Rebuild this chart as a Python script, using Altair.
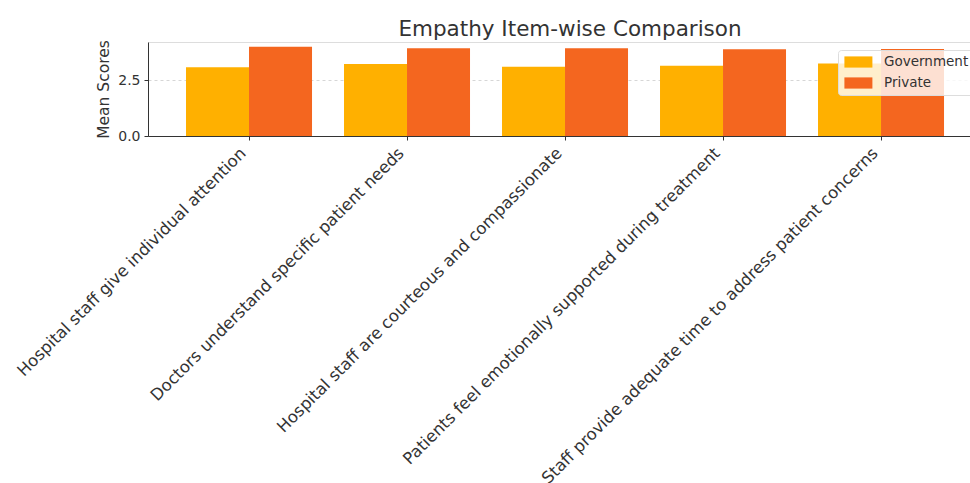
import altair as alt
import pandas as pd

categories = [
    "Hospital staff give individual attention",
    "Doctors understand specific patient needs",
    "Hospital staff are courteous and compassionate",
    "Patients feel emotionally supported during treatment",
    "Staff provide adequate time to address patient concerns",
]
series = ["Government", "Private"]
government = [3.09, 3.23, 3.11, 3.15, 3.26]
private = [4.01, 3.94, 3.94, 3.89, 3.91]
colors = ["#FFB000", "#F4661F"]
y_ticks = [0.0, 2.5]

rows = []
for c, g, p in zip(categories, government, private):
    rows.append({"Item": c, "Sector": "Government", "Score": g})
    rows.append({"Item": c, "Sector": "Private", "Score": p})
df = pd.DataFrame(rows)

FONT = "DejaVu Sans"
rect_path = "M-0.8,-0.8 L3.2,-0.8 L3.2,0.8 L-0.8,0.8 Z"

chart = alt.Chart(df).mark_bar().encode(
    x=alt.X(
        "Item:N",
        sort=categories,
        scale=alt.Scale(paddingInner=0.2025, paddingOuter=0.2025, align=0.594),
        axis=alt.Axis(
            title=None,
            labelAngle=-45,
            labelAlign="right",
            labelBaseline="bottom",
            labelFontSize=16.5,
            labelFont=FONT,
            labelColor="#333333",
            labelLimit=700,
            tickSize=4,
            tickColor="#333333",
            domainColor="#333333",
            labelPadding=16,
            grid=False,
        ),
    ),
    xOffset=alt.XOffset("Sector:N", sort=series),
    y=alt.Y(
        "Score:Q",
        scale=alt.Scale(domain=[0, 4.22], nice=False),
        axis=alt.Axis(
            title="Mean Scores",
            values=y_ticks,
            format=".1f",
            labelFontSize=14,
            labelFont=FONT,
            labelColor="#333333",
            titleFont=FONT,
            titleFontSize=15.5,
            titleFontWeight="normal",
            titleColor="#333333",
            titlePadding=6,
            tickSize=4,
            tickColor="#333333",
            domainColor="#333333",
            labelPadding=4,
            grid=True,
            gridDash=[3, 3],
            gridColor="#cccccc",
            gridWidth=0.8,
        ),
    ),
    color=alt.Color(
        "Sector:N",
        sort=series,
        scale=alt.Scale(domain=series, range=colors),
        legend=alt.Legend(
            title=None,
            orient="none",
            legendX=690,
            legendY=8,
            symbolType=rect_path,
            symbolSize=196,
            symbolStrokeWidth=0,
            symbolOpacity=1,
            labelFontSize=13.5,
            labelFont=FONT,
            labelColor="#333333",
            labelOffset=27,
            rowPadding=7,
            padding=5,
            fillColor="rgba(255,255,255,0.8)",
            strokeColor="#dddddd",
            cornerRadius=3,
        ),
    ),
).properties(
    width=822,
    height=94,
    title=alt.TitleParams(
        "Empathy Item-wise Comparison",
        font=FONT,
        fontSize=21.5,
        fontWeight="normal",
        color="#333333",
        anchor="middle",
        baseline="alphabetic",
        offset=9,
        dx=11,
        dy=27,
    ),
    autosize=alt.AutoSizeParams(type="none"),
    padding={"left": 148, "top": 42, "right": 0, "bottom": 347},
).configure_view(stroke=None).configure(background="white")

chart.save("out.html", embed_options={"renderer": "svg", "actions": False})
